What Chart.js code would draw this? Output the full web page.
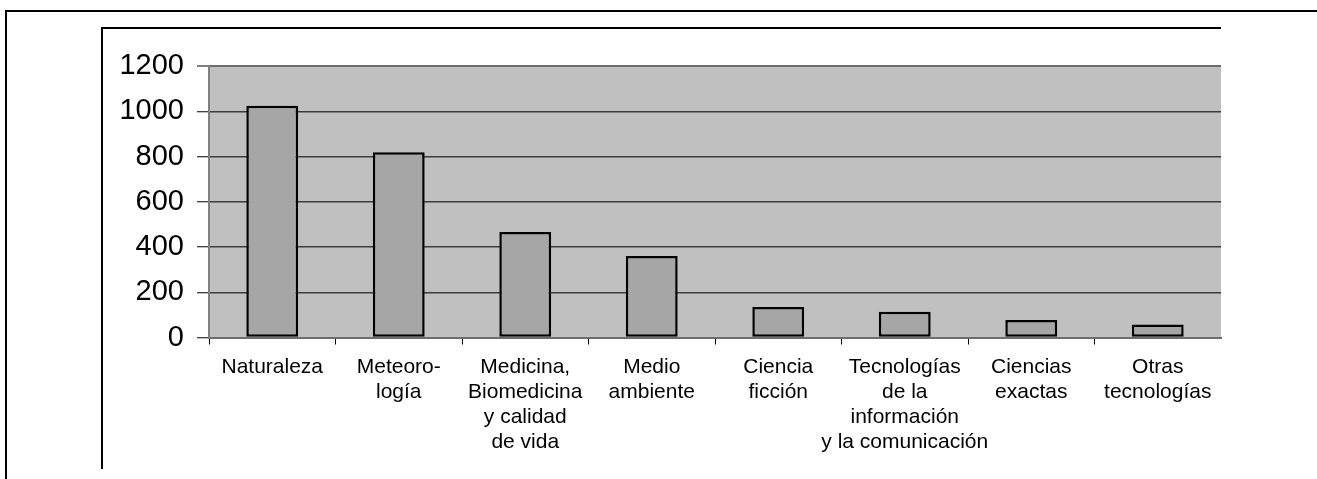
<!DOCTYPE html>
<html>
<head>
<meta charset="utf-8">
<script src="https://cdn.jsdelivr.net/npm/chart.js@4/dist/chart.umd.min.js"></script>
<style>
  html, body { margin: 0; padding: 0; background: #fff; overflow: hidden; }
  canvas { display: block; }
</style>
</head>
<body>
<canvas id="chart" width="1317" height="479"></canvas>
<script>
// categories (multi-line labels as in the original)
const categories = [
    "Naturaleza",
    ["Meteoro-", "logía"],
    ["Medicina,", "Biomedicina", "y calidad", "de vida"],
    ["Medio", "ambiente"],
    ["Ciencia", "ficción"],
    ["Tecnologías", "de la", "información", "y la comunicación"],
    ["Ciencias", "exactas"],
    ["Otras", "tecnologías"]
]
const counts = [1024, 819, 466, 360, 135, 114, 77, 57]
const yTicks = [0, 200, 400, 600, 800, 1000, 1200]

Chart.defaults.font.family = "'Liberation Sans', Arial, sans-serif"
Chart.defaults.color = "#000"

// grey plot background + the two page frames
const frame = {
    id: "frame",
    beforeDraw(chart) {
        const { ctx, chartArea: a } = chart
        ctx.save()
        ctx.fillStyle = "#c0c0c0"
        ctx.fillRect(a.left, a.top, a.right - a.left, a.bottom - a.top)
        ctx.strokeStyle = "#000"
        ctx.lineWidth = 2
        ctx.beginPath()
        ctx.moveTo(1317, 11); ctx.lineTo(6, 11); ctx.lineTo(6, 479)
        ctx.moveTo(1221, 28); ctx.lineTo(102, 28); ctx.lineTo(102, 469)
        ctx.stroke()
        ctx.restore()
    }
}

new Chart(document.getElementById("chart"), {
    type: "bar",
    data: {
        labels: categories,
        datasets: [{
            data: counts,
            backgroundColor: "#a6a6a6",
            borderColor: "#000",
            borderWidth: 2.5,
            borderSkipped: false,
            categoryPercentage: 1,
            barPercentage: 0.41
        }]
    },
    options: {
        responsive: false,
        animation: false,
        devicePixelRatio: 1,
        layout: { padding: { top: 66, right: 96, left: 0, bottom: 0 } },
        plugins: { legend: { display: false }, tooltip: { enabled: false } },
        scales: {
            x: {
                grid: {
                    drawOnChartArea: false,
                    tickLength: 7,
                    color: c => c.tick ? "#000" : "rgba(0,0,0,0)",
                    lineWidth: 1
                },
                border: { color: "#6e6e6e", width: 2 },
                ticks: { font: { size: 21, lineHeight: 1.2 }, padding: 10, maxRotation: 0, autoSkip: false, color: "#000" },
                afterFit(scale) { scale.height = 141.5 }
            },
            y: {
                min: 0,
                max: 1200,
                afterBuildTicks(scale) { scale.ticks = yTicks.map(v => ({ value: v })) },
                grid: {
                    color: c => c.tick && c.tick.value === 1200 ? "#6e6e6e" : "#3c3c3c",
                    lineWidth: c => c.tick && c.tick.value === 1200 ? 2 : 1.5,
                    tickColor: "#000",
                    tickWidth: 1,
                    tickLength: 12
                },
                border: { color: "#808080", width: 2 },
                ticks: { font: { size: 29 }, padding: 13, color: "#000", callback: v => String(v) },
                afterFit(scale) { scale.width = 209 }
            }
        }
    },
    plugins: [frame]
})
</script>
</body>
</html>
